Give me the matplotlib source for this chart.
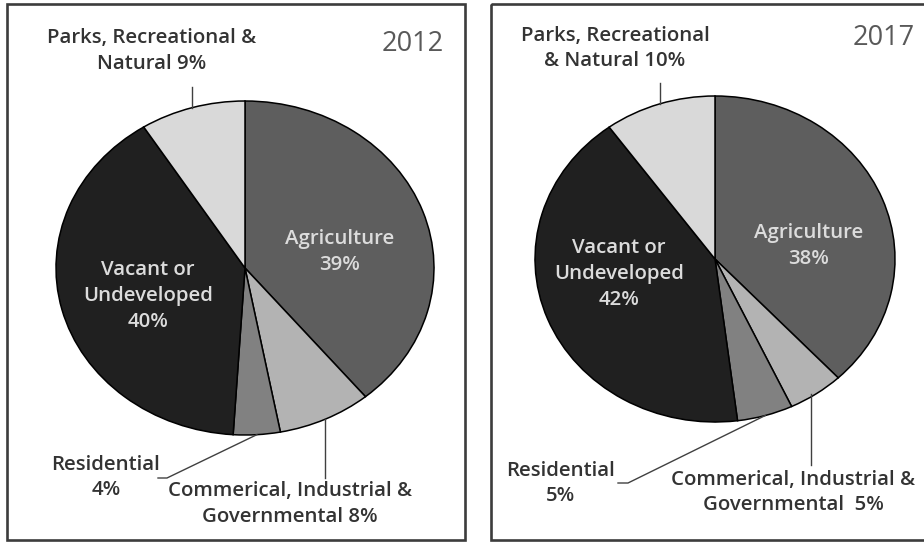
import numpy as np
import matplotlib
matplotlib.use('Agg')
import matplotlib.pyplot as plt
from matplotlib.patches import Rectangle

plt.rcParams['font.family'] = ['Open Sans', 'DejaVu Sans']

# 数据
categories = ['Agriculture', 'Commerical, Industrial & Governmental', 'Residential',
              'Vacant or Undeveloped', 'Parks, Recreational & Natural']
share_2012 = [39, 8, 4, 40, 9]
share_2017 = [38, 5, 5, 42, 10]
years = ['2012', '2017']

# 标签文字（换行位置按原图）
labels_2012 = ['Agriculture\n{}%', 'Commerical, Industrial &\nGovernmental {}%', 'Residential\n{}%',
               'Vacant or\nUndeveloped\n{}%', 'Parks, Recreational &\nNatural {}%']
labels_2017 = ['Agriculture\n{}%', 'Commerical, Industrial &\nGovernmental  {}%', 'Residential\n{}%',
               'Vacant or\nUndeveloped\n{}%', 'Parks, Recreational\n& Natural {}%']

colors = ['#5e5e5e', '#b3b3b3', '#818181', '#202020', '#d9d9d9']
inside = [True, False, False, True, False]

W, H = 924, 543

# 版面（像素坐标）
panels = [
    dict(box=(7, 4, 464.5, 540), center=(245, 268), radius=(189, 167),
         year_pos=(413, 44),
         label_pos=[(340, 252), (290, 504), (106, 477.5), (148, 296), (152, 51)],
         leader_end=[None, (325, 478), [(167, 478), (158, 478)], None, (192, 87)]),
    dict(box=(491, 4, 935, 540), center=(715, 259), radius=(180, 163),
         year_pos=(884, 38),
         label_pos=[(809, 246), (793, 492.5), (560.5, 483.5), (619, 274), (615, 48.5)],
         leader_end=[None, (811, 465), [(628, 483), (618, 483)], None, (660, 83)]),
]

fig = plt.figure(figsize=(W / 100, H / 100), dpi=100)
bg = fig.add_axes([0, 0, 1, 1])
bg.set_xlim(0, W)
bg.set_ylim(H, 0)
bg.axis('off')
bg.set_zorder(3)
bg.patch.set_alpha(0)

for values, tmpl, year, p in zip([share_2012, share_2017], [labels_2012, labels_2017], years, panels):
    x0, y0, x1, y1 = p['box']
    bg.add_patch(Rectangle((x0, y0), x1 - x0, y1 - y0, fill=False,
                           edgecolor='#3c3c3c', linewidth=1.9, clip_on=False))

    cx, cy = p['center']
    rx, ry = p['radius']
    ax = fig.add_axes([(cx - rx) / W, (H - cy - ry) / H, 2 * rx / W, 2 * ry / H])
    wedges, _ = ax.pie(values, colors=colors, startangle=90, counterclock=False,
                       wedgeprops=dict(edgecolor='black', linewidth=1.1))
    for w in wedges:
        w.set_clip_on(False)
    ax.set_aspect('auto')
    ax.set_xlim(-1, 1)
    ax.set_ylim(-1, 1)
    ax.axis('off')

    # 年份
    bg.text(*p['year_pos'], year, ha='center', va='center', fontsize=19.5, color='#595959')

    cum = np.cumsum([0] + values[:-1])
    for i, v in enumerate(values):
        lx, ly = p['label_pos'][i]
        bg.text(lx, ly, tmpl[i].format(v), ha='center', va='center', fontsize=14.7,
                fontweight='semibold', linespacing=1.37,
                color='#dcdcdc' if inside[i] else '#333333')

        end = p['leader_end'][i]
        if end is None:
            continue
        theta = np.deg2rad(90 - 360 * (cum[i] + v / 2) / 100)
        sx, sy = cx + rx * np.cos(theta), cy - ry * np.sin(theta)
        if isinstance(end, list):
            xs = [sx] + [e[0] for e in end]
            ys = [sy] + [e[1] for e in end]
        else:
            xs = [end[0], end[0]]
            ys = [sy, end[1]]
        bg.plot(xs, ys, color='#404040', linewidth=1.0)

fig.savefig('out.png', dpi=100)
